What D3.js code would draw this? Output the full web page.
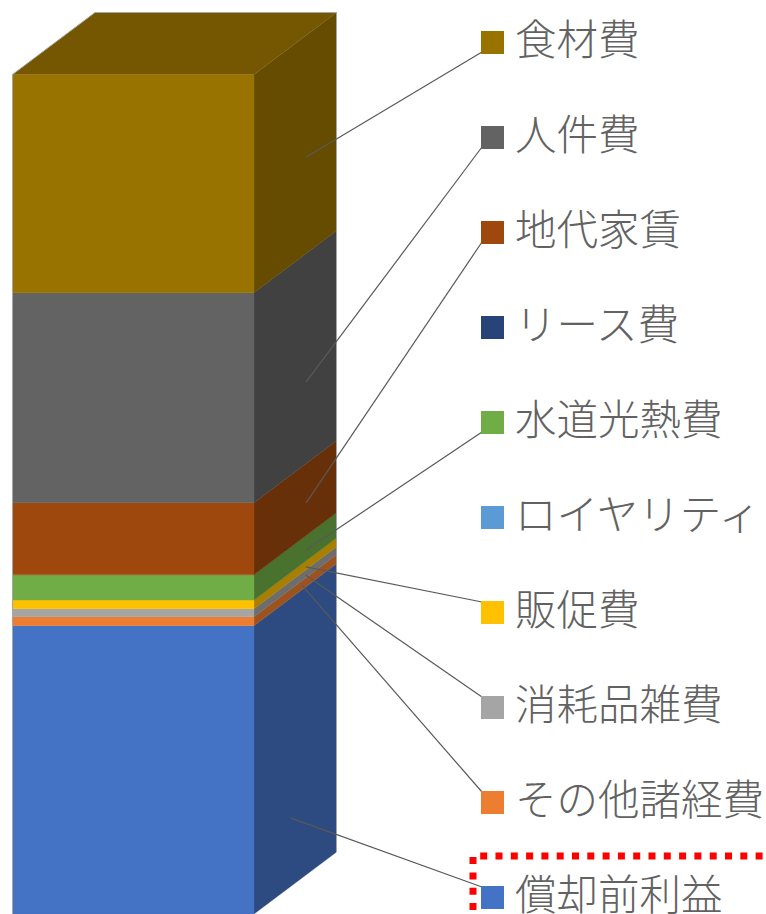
<!DOCTYPE html>
<html lang="ja">
<head>
<meta charset="utf-8">
<script src="https://cdn.jsdelivr.net/npm/d3@7"></script>
<style>
html, body { margin: 0; padding: 0; background: #fff; overflow: hidden; }
svg { display: block; }
text { font-family: "Noto Sans CJK JP", sans-serif; font-weight: 300; fill: #626262; }
</style>
</head>
<body>
<svg width="766" height="914"></svg>
<script>
// legend order, top of the stack first
var categories = ["食材費", "人件費", "地代家賃", "リース費", "水道光熱費", "ロイヤリティ", "販促費", "消耗品雑費", "その他諸経費", "償却前利益"];
var shares = [26, 25, 8.6, 0, 3, 0, 1.05, 0.95, 1.05, 34.35];
var colors = ["#997300", "#636363", "#9e480e", "#264478", "#70ad47", "#5b9bd5", "#ffc000", "#a5a5a5", "#ed7d31", "#4472c4"];
// where each leader line lands on the side face: stack value and depth (0-1)
var leaderValues = [85.5, 58.7, 44.3, null, 38.7, null, 36.7, 35.7, 34.9, 8.1];
var leaderDepths = [0.63, 0.63, 0.63, null, 0.63, null, 0.63, 0.63, 0.58, 0.45];

var svg = d3.select("svg");

var x = d3.scaleLinear().domain([0, 1]).range([12.5, 254]);
var y = d3.scaleLinear().domain([0, 100]).range([914, 74.5]);
var depthX = d3.scaleLinear().domain([0, 1]).range([0, 82.5]);
var depthY = d3.scaleLinear().domain([0, 1]).range([0, -62]);

function pt(a, v, d) {
    return [x(a) + depthX(d), y(v) + depthY(d)];
}
function shade(c, k) {
    var r = d3.rgb(c);
    return d3.rgb(r.r * k, r.g * k, r.b * k).formatHex();
}

var row = {};
categories.forEach(function(c, i) { row[c] = shares[i]; });
var series = d3.stack().keys(categories.slice().reverse())([row]);
var line = d3.line();

var bar = svg.append("g");
series.forEach(function(s) {
    var i = categories.indexOf(s.key);
    var v0 = s[0][0], v1 = s[0][1];
    if (v1 - v0 <= 0) return;
    bar.append("path")
        .attr("d", line([pt(1, v0, 0), pt(1, v0, 1), pt(1, v1, 1), pt(1, v1, 0)]) + "Z")
        .attr("fill", shade(colors[i], 0.66))
        .attr("stroke", shade(colors[i], 0.66))
        .attr("stroke-width", 0.4);
    bar.append("path")
        .attr("d", line([pt(0, v0, 0), pt(1, v0, 0), pt(1, v1, 0), pt(0, v1, 0)]) + "Z")
        .attr("fill", colors[i])
        .attr("stroke", colors[i])
        .attr("stroke-width", 0.4);
});

// top face
var total = d3.sum(shares);
bar.append("path")
    .attr("d", line([pt(0, total, 0), pt(1, total, 0), pt(1, total, 1), pt(0, total, 1)]) + "Z")
    .attr("fill", shade(colors[0], 0.76));

// thin outline round the box
bar.append("path")
    .attr("d", line([pt(0, 0, 0), pt(0, total, 0), pt(0, total, 1), pt(1, total, 1), pt(1, 0, 1)]))
    .attr("fill", "none")
    .attr("stroke", "#a6a6a6")
    .attr("stroke-width", 1);

// legend
var legendY = d3.scalePoint().domain(categories).range([31, 886]);
var swatch = 23, swatchX = 481;

categories.forEach(function(c, i) {
    if (leaderValues[i] === null) return;
    var end = pt(1, leaderValues[i], leaderDepths[i]);
    var sy = legendY(c);
    // rising lines meet the swatch at its lower corner, falling ones at the upper
    var ly = end[1] > sy ? sy + swatch - 2 : sy + 1;
    svg.append("path")
        .attr("d", line([end, [swatchX + 1, ly]]))
        .attr("fill", "none")
        .attr("stroke", "#595959")
        .attr("stroke-width", 1.2);
});

var legend = svg.selectAll(".legend")
    .data(categories)
    .enter().append("g")
    .attr("class", "legend")
    .attr("transform", function(d) { return "translate(" + swatchX + "," + legendY(d) + ")"; });

legend.append("rect")
    .attr("width", swatch)
    .attr("height", swatch)
    .attr("fill", function(d, i) { return colors[i]; });

legend.append("text")
    .attr("x", 34)
    .attr("y", 24)
    .attr("font-size", 41.5)
    .text(function(d) { return d; });

// red dotted marker around the last legend item
svg.append("path")
    .attr("d", line([[473, 910], [473, 856], [766, 856]]))
    .attr("fill", "none")
    .attr("stroke", "#ff0000")
    .attr("stroke-width", 7)
    .attr("stroke-dasharray", "7 8.3");
</script>
</body>
</html>
